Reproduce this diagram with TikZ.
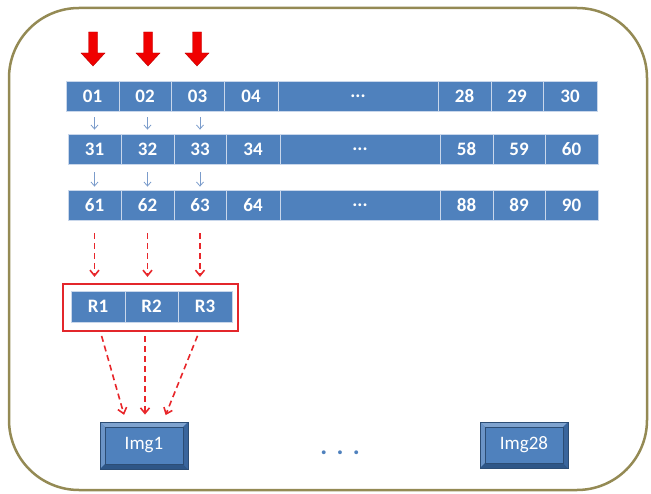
\documentclass[tikz,border=0pt]{standalone}
\usepackage{fontspec}
\setmainfont{Carlito}
\usetikzlibrary{arrows.meta}
\definecolor{cellblue}{HTML}{4F81BD}
\definecolor{cellline}{HTML}{C9D7EB}
\definecolor{thinblue}{HTML}{7B9CCB}
\definecolor{frameol}{HTML}{948A54}
\definecolor{boxred}{HTML}{E3262B}
\definecolor{dashred}{HTML}{E8262A}
\definecolor{arrowred}{HTML}{F00000}
\definecolor{arrowedge}{HTML}{B80000}
\definecolor{bvlight}{HTML}{7FA3CF}
\definecolor{bvleft}{HTML}{6B94C7}
\definecolor{bvdark}{HTML}{2E5687}
\definecolor{bvright}{HTML}{3A659C}
\definecolor{bvedge}{HTML}{2C4D75}
\newcommand\celldots{...}
\begin{document}
\begin{tikzpicture}[x=1pt,y=-1pt,
  cell/.style={draw=cellline, line width=0.8pt, fill=cellblue, text=white,
    font=\fontsize{19}{19}\selectfont\bfseries, inner sep=0pt},
  thinarrow/.style={draw=thinblue, line width=0.8pt, -{Straight Barb[length=4pt,width=7pt]}},
  reddash/.style={draw=dashred, line width=1.6pt, dash pattern=on 6pt off 4pt,
    -{Straight Barb[length=5.5pt,width=9pt]}},
  imgbox/.style={draw=bvedge, line width=0.8pt, fill=cellblue, text=white,
    font=\fontsize{19}{19}\selectfont, inner sep=0pt,
    path picture={
      \fill[bvlight] (path picture bounding box.north west) -- (path picture bounding box.north east)
        -- ([shift={(-5pt,-5pt)}]path picture bounding box.north east)
        -- ([shift={(5pt,-5pt)}]path picture bounding box.north west) -- cycle;
      \fill[bvleft] (path picture bounding box.north west) -- ([shift={(5pt,-5pt)}]path picture bounding box.north west)
        -- ([shift={(5pt,5pt)}]path picture bounding box.south west)
        -- (path picture bounding box.south west) -- cycle;
      \fill[bvdark] (path picture bounding box.south west) -- (path picture bounding box.south east)
        -- ([shift={(-5pt,5pt)}]path picture bounding box.south east)
        -- ([shift={(5pt,5pt)}]path picture bounding box.south west) -- cycle;
      \fill[bvright] (path picture bounding box.north east) -- ([shift={(-5pt,-5pt)}]path picture bounding box.north east)
        -- ([shift={(-5pt,5pt)}]path picture bounding box.south east)
        -- (path picture bounding box.south east) -- cycle;
      \draw[bvedge, line width=0.5pt] ([shift={(5pt,-5pt)}]path picture bounding box.north west) rectangle
        ([shift={(-5pt,5pt)}]path picture bounding box.south east);
    }},
  bigarrow/.pic={\fill[arrowred, draw=arrowedge, line width=0.4pt]
    (-4.5,0) -- (4.5,0) -- (4.5,21) -- (12,21) -- (0,34) -- (-12,21) -- (-4.5,21) -- cycle;}
]
\useasboundingbox (0,0) rectangle (651,494);
\draw[frameol, line width=2.5pt, rounded corners=70pt] (9,8) rectangle (647,490);

% red block arrows
\pic at (93,32) {bigarrow};
\pic at (148,32) {bigarrow};
\pic at (197,32) {bigarrow};

% row 1
\foreach \l/\r/\t/\n in {66/119/01/1,119/171/02/2,171/224/03/3,224/278/04/4,278/438/\celldots/5,438/491/28/6,491/543/29/7,543/597/30/8}
  \node[cell, minimum width={(\r-\l)*1pt}, minimum height=30pt] (a\n) at ({(\l+\r)/2},96) {\t};
% row 2
\foreach \l/\r/\t/\n in {68/121/31/1,121/174/32/2,174/226/33/3,226/280/34/4,280/440/\celldots/5,440/493/58/6,493/545/59/7,545/598/60/8}
  \node[cell, minimum width={(\r-\l)*1pt}, minimum height=30pt] (b\n) at ({(\l+\r)/2},149) {\t};
% row 3
\foreach \l/\r/\t/\n in {68/121/61/1,121/174/62/2,174/226/63/3,226/280/64/4,280/440/\celldots/5,440/493/88/6,493/545/89/7,545/598/90/8}
  \node[cell, minimum width={(\r-\l)*1pt}, minimum height=30pt] (c\n) at ({(\l+\r)/2},205) {\t};

% thin arrows
\foreach \n in {1,2,3} {
  \draw[thinarrow, shorten <=6pt, shorten >=4pt] (a\n.south -| b\n.north) -- (b\n.north);
  \draw[thinarrow, shorten <=8pt, shorten >=3pt] (b\n.south) -- (b\n.south |- c\n.north);
}

% R box
\node[draw=boxred, line width=2.2pt, minimum width=175pt, minimum height=47pt, inner sep=0pt] (Rbox) at (150.5,307.5) {};
\node[cell, minimum width=54pt, minimum height=31pt] (R1) at (98,306.5) {R1};
\node[cell, minimum width=53pt, minimum height=31pt] (R2) at (151.5,306.5) {R2};
\node[cell, minimum width=54pt, minimum height=31pt] (R3) at (205,306.5) {R3};

% dashed arrows rows -> R
\foreach \n in {1,2,3}
  \draw[reddash, shorten <=13pt, shorten >=6pt] (c\n.south) -- (c\n.south |- Rbox.north);

% Img boxes
\node[imgbox, minimum width=88pt, minimum height=47pt] (Img1) at (144,445.5) {Img1};
\node[imgbox, minimum width=88pt, minimum height=46pt] (Img28) at (524,445) {Img28};

% dashed arrows R -> Img1
\draw[reddash, shorten <=4pt, shorten >=7pt] ([xshift=-50pt]Rbox.south) -- ([xshift=-18pt]Img1.north);
\draw[reddash, shorten <=4pt, shorten >=7pt] ([xshift=-5.5pt]Rbox.south) -- ([xshift=1pt]Img1.north);
\draw[reddash, shorten <=4pt, shorten >=7pt] ([xshift=48.5pt]Rbox.south) -- ([xshift=19pt]Img1.north);

% dots
\node[font=\fontsize{26}{26}\selectfont\bfseries, text=cellblue, inner sep=0pt] (dots) at (340,453) {.\hspace{9.3pt}.\hspace{9.3pt}.};
\end{tikzpicture}
\end{document}
